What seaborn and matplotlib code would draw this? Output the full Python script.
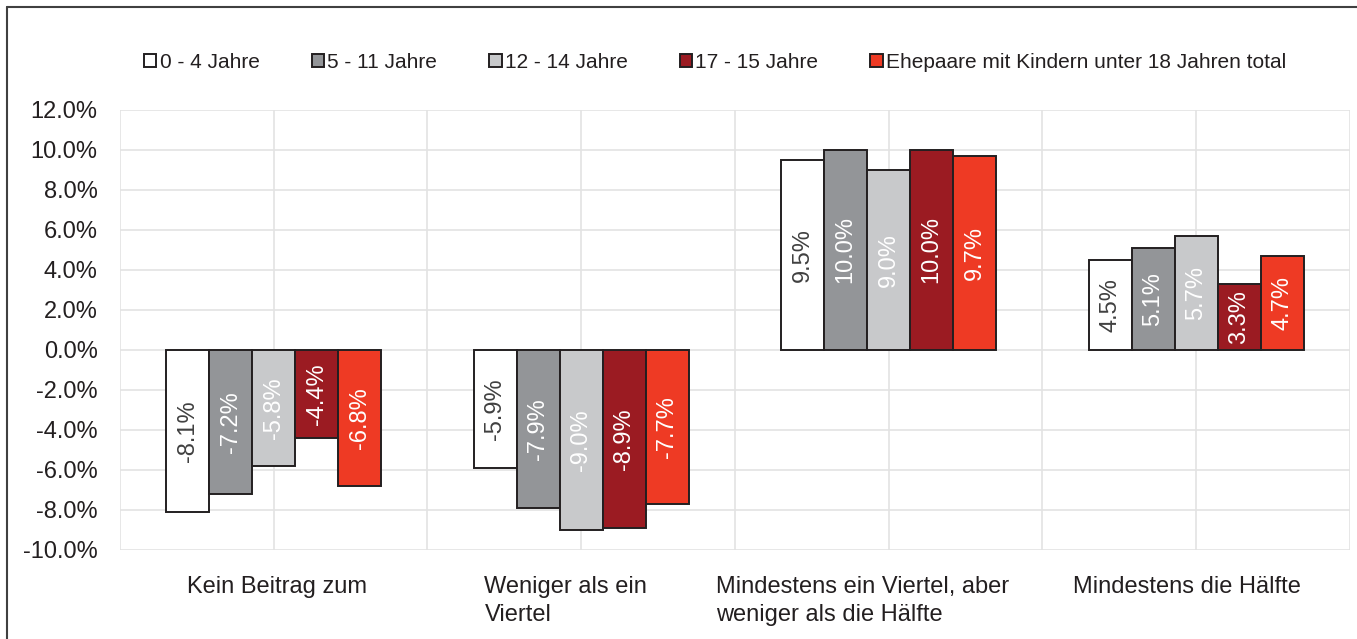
import numpy as np
import pandas as pd
import matplotlib
matplotlib.use("Agg")
import matplotlib.pyplot as plt
from matplotlib.lines import Line2D
import seaborn as sns

# ---------------- DATA ---------------- #

categories = [
    "Kein Beitrag zum",
    "Weniger als ein\nViertel",
    "Mindestens ein Viertel, aber\nweniger als die Hälfte",
    "Mindestens die Hälfte",
]
groups = [
    "0 - 4 Jahre",
    "5 - 11 Jahre",
    "12 - 14 Jahre",
    "17 - 15 Jahre",
    "Ehepaare mit Kindern unter 18 Jahren total",
]
# one list per group, values in percent, in category order
age_0_4 = [-8.1, -5.9, 9.5, 4.5]
age_5_11 = [-7.2, -7.9, 10.0, 5.1]
age_12_14 = [-5.8, -9.0, 9.0, 5.7]
age_15_17 = [-4.4, -8.9, 10.0, 3.3]
total = [-6.8, -7.7, 9.7, 4.7]

y_ticks = [-10, -8, -6, -4, -2, 0, 2, 4, 6, 8, 10, 12]

colors = ["#ffffff", "#939598", "#c8c9cb", "#9b1b22", "#ee3a24"]
label_colors = ["#404040", "#ffffff", "#ffffff", "#ffffff", "#ffffff"]

series = [age_0_4, age_5_11, age_12_14, age_15_17, total]
rows = []
for g, vals in zip(groups, series):
    for c, v in zip(categories, vals):
        rows.append({"Kategorie": c, "Gruppe": g, "Wert": v})
df = pd.DataFrame(rows)

# ---------------- PLOT ---------------- #

sns.set_theme(style="white")
plt.rcParams["font.family"] = ["Liberation Sans", "DejaVu Sans"]

fig = plt.figure(figsize=(13.57, 6.39), dpi=100)
ax = fig.add_axes([0.0884, 0.1393, 0.9064, 0.6886])

# grid: horizontal at y ticks, vertical at category centers and boundaries
for x in np.arange(-0.5, len(categories), 0.5):
    ax.axvline(x, color="#e3e3e3", linewidth=1.2, zorder=0)
ax.grid(axis="y", which="major", color="#e3e3e3", linewidth=1.2, zorder=0)
ax.set_axisbelow(True)

sns.barplot(
    data=df, x="Kategorie", y="Wert", hue="Gruppe",
    order=categories, hue_order=groups, palette=colors,
    width=0.7, edgecolor="#231f20", linewidth=1.4,
    errorbar=None, ax=ax, zorder=3, saturation=1,
)

for cont, lc in zip(ax.containers, label_colors):
    ax.bar_label(cont, labels=[f"{v:.1f}%" for v in cont.datavalues],
                 label_type="center", rotation=90, color=lc, fontsize=17)

ax.set_ylim(-10, 12)
ax.set_yticks(y_ticks)
ax.set_yticklabels([f"{t:.1f}%" for t in y_ticks], fontsize=17, color="#231f20")
ax.set_xlim(-0.5, len(categories) - 0.5)
ax.set_xticks(range(len(categories)))
ax.set_xticklabels([])
ax.tick_params(axis="x", length=0)
ax.tick_params(axis="y", length=0, pad=16)
ax.set_xlabel("")
ax.set_ylabel("")
for s in ax.spines.values():
    s.set_visible(False)

# category labels, shifted slightly as in the reference
label_dx = [0.01, -0.05, -0.085, -0.03]
for i, (cat, dx) in enumerate(zip(categories, label_dx)):
    ax.text(i + dx, -11.3, cat, ha="center", va="top", fontsize=17,
            color="#231f20", multialignment="left", linespacing=1.35)

handles, labels = ax.get_legend_handles_labels()
ax.get_legend().remove()
fig.legend(handles, labels, loc="center", bbox_to_anchor=(0.527, 0.902),
           ncol=5, frameon=False, fontsize=15, handlelength=0.6,
           handleheight=0.6, handletextpad=0.15, columnspacing=2.5,
           labelcolor="#231f20")

# outer frame (left and top edge visible in the reference)
fig.add_artist(Line2D([0.0055, 0.0055], [0, 0.989], color="#404040", lw=1.5))
fig.add_artist(Line2D([0.0055, 1.0], [0.989, 0.989], color="#404040", lw=1.5))

fig.savefig("out.png", dpi=100)
